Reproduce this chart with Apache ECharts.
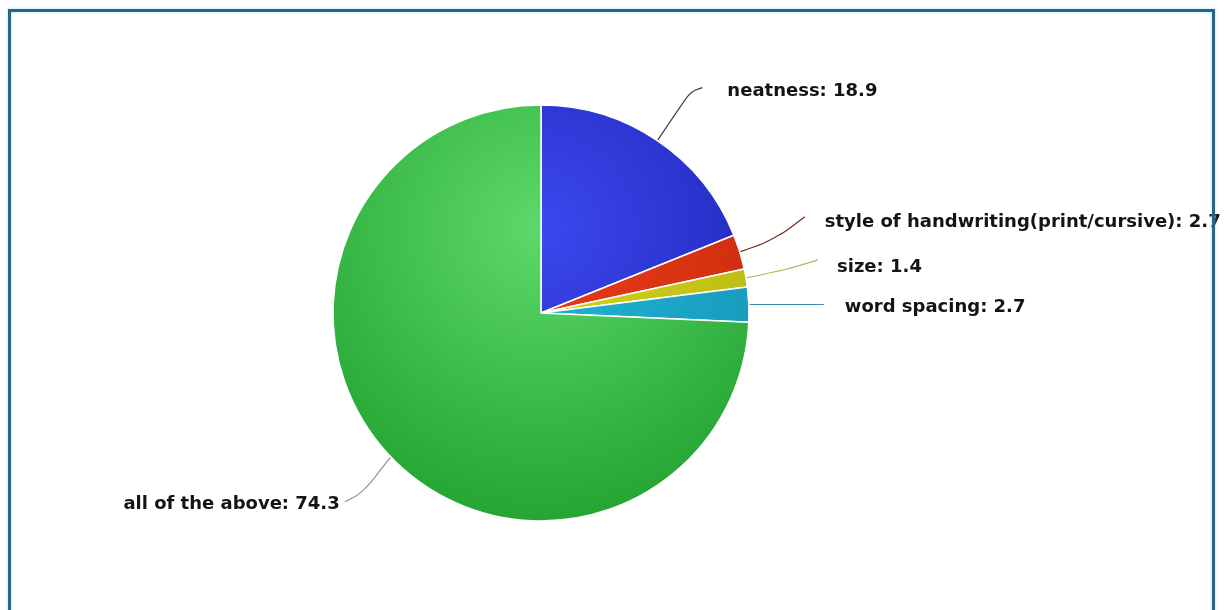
<!DOCTYPE html>
<html>
<head>
<meta charset="utf-8">
<script src="https://cdn.jsdelivr.net/npm/echarts@6/dist/echarts.min.js"></script>
<style>
  html, body { margin: 0; padding: 0; background: #ffffff; }
  #chart { width: 1224px; height: 610px; }
</style>
</head>
<body>
<div id="chart"></div>
<script>
// Survey answers, in the order the slices run clockwise from twelve o'clock
const categories = ['neatness', 'style of handwriting(print/cursive)', 'size', 'word spacing', 'all of the above'];
const values = [18.9, 2.7, 1.4, 2.7, 74.3];

// Slice shading: [highlight, rim]
const sliceColors = [
  ['#3c48ee', '#1a1fae'],
  ['#ec3c1a', '#c2280a'],
  ['#d8d820', '#b0b010'],
  ['#22b8d8', '#1690b2'],
  ['#5cd96a', '#21a02e']
];
const lineColors = ['#3a3f58', '#7a2a1e', '#b8b45a', '#3a8aa8', '#7f9c86'];

// Leader-line geometry, offsets from the slice's outer-arc midpoint:
// elbow, line end, text anchor
const leaderOffsets = [
  { elbow: [33, -49], end: [45, -53], text: [70, -49] },
  { elbow: [35, -12], end: [65, -35], text: [85, -30] },
  { elbow: [40, -8],  end: [72, -18], text: [91, -11] },
  { elbow: [36, 0],   end: [75, 0],   text: [96, 3] },
  { elbow: [-28, 36], end: [-46, 45], text: [-51, 48] }
];

const CX = 541, CY = 313, R = 208;

function shade(i) {
  return {
    type: 'radial', x: 540, y: 228, r: 320, global: true,
    colorStops: [
      { offset: 0, color: sliceColors[i][0] },
      { offset: 1, color: sliceColors[i][1] }
    ]
  };
}

const chart = echarts.init(document.getElementById('chart'), null, { renderer: 'canvas' });

chart.setOption({
  backgroundColor: '#ffffff',
  animation: false,
  series: [{
    type: 'pie',
    center: [CX, CY],
    radius: R,
    startAngle: 90,
    clockwise: true,
    avoidLabelOverlap: false,
    data: categories.map((name, i) => ({
      name: name,
      value: values[i],
      itemStyle: { color: shade(i) },
      labelLine: { lineStyle: { color: lineColors[i] } }
    })),
    itemStyle: { borderColor: '#ffffff', borderWidth: 1.5 },
    label: {
      show: true,
      formatter: p => p.name + ': ' + p.value,
      fontFamily: '"DejaVu Sans", Verdana, sans-serif',
      fontWeight: 'bold',
      fontSize: 18,
      color: '#141414',
      overflow: 'none'
    },
    labelLine: {
      show: true,
      length: 30,
      length2: 20,
      smooth: 0.35,
      lineStyle: { width: 1.2 }
    },
    labelLayout: function (params) {
      const o = leaderOffsets[params.dataIndex];
      const pts = params.labelLinePoints;
      if (!pts) return {};
      const e = pts[0];
      const left = o.text[0] < 0;
      return {
        x: e[0] + o.text[0],
        y: e[1] + o.text[1],
        align: left ? 'right' : 'left',
        verticalAlign: 'middle',
        labelLinePoints: [
          [e[0], e[1]],
          [e[0] + o.elbow[0], e[1] + o.elbow[1]],
          [e[0] + o.end[0], e[1] + o.end[1]]
        ]
      };
    }
  }],
  graphic: [{
    type: 'rect',
    z: 100,
    silent: true,
    shape: { x: 9.5, y: 10.5, width: 1204, height: 700 },
    style: {
      fill: 'none',
      stroke: '#2d6383',
      lineWidth: 3,
      shadowBlur: 3,
      shadowColor: 'rgba(110,215,235,0.7)'
    }
  }]
});
</script>
</body>
</html>
